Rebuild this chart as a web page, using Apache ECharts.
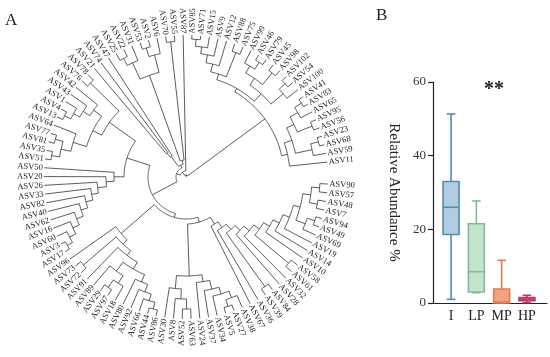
<!DOCTYPE html>
<html><head><meta charset="utf-8">
<script src="https://cdn.jsdelivr.net/npm/echarts@6/dist/echarts.min.js"></script>
<style>html,body{margin:0;padding:0;background:#fff}#c{width:550px;height:357px}</style>
</head><body><div id="c"></div>
<script>
// ================= Panel A : circular dendrogram =================
// internal node = [depth, child, child, ...]; leaf = name. Depth in the same unit as tipDepth.
const tipDepth = 142;
function ladder(base, steps) { return steps.reduce((acc, s) => [s[0], acc, s[1]], base); }

const cladeRightTop = [118, [126, [134, 'ASV90', 'ASV57'], [134, 'ASV48', 'ASV7']], [128, [136, 'ASV94', 'ASV49'], 'ASV69']];
const rightLadderSteps = [[111, 'ASV19'], [104, 'ASV14'], [97, 'ASV10'], [90, [134, 'ASV58', 'ASV61']], [83, 'ASV32'],
  [76, 'ASV28'], [69, [135, 'ASV84', 'ASV39']], [62, 'ASV36'], [55, 'ASV67']];
const cladeBottomRight = ladder([129, 'ASV38', [136, 'ASV27', 'ASV5']], [[122, 'ASV34'], [115, 'ASV37'], [106, 'ASV24']]);
const cladeBottomLeft = ladder([132, 'ASV63', 'ASV52'], [[122, 'ASV8'], [112, 'ASV30']]);
const cladeLowerLeftA = ladder([136, 'ASV86', 'ASV44'], [[129, 'ASV66'], [122, 'ASV92'], [114, 'ASV80']]);
const cladeLowerLeftB = [117, [126, 'ASV18', [135, 'ASV97', 'ASV29']], 'ASV89'];
const lowerLeftSteps = [[98, 'ASV91'], [92, [135, 'ASV72', 'ASV73']], [86, 'ASV96']];
const leftLadderSteps = [[131, 'ASV60'], [124, 'ASV16'], [117, 'ASV62'], [110, 'ASV40'], [103, 'ASV82'],
  [96, 'ASV33'], [89, 'ASV26'], [80, 'ASV20'], [72, 'ASV50']];
const cladeUpperLeftA = [118, [128, [136, 'ASV51', 'ASV35'], [136, 'ASV81', 'ASV77']], 'ASV64'];
const cladeUpperLeftB = ladder([136, 'ASV13', 'ASV4'], [[129, 'ASV1'], [122, 'ASV43'], [114, 'ASV42']]);
const cladeTop = [108, [126, [134, 'ASV25', 'ASV22'], 'ASV31'], [126, [135, 'ASV53', 'ASV2'], 'ASV6']];
const cladeUR1 = ladder([138, 'ASV85', 'ASV71'], [[131, 'ASV15'], [124, 'ASV9'], [116, 'ASV12']]);
const cladeUR2 = [112, [120, [128, 'ASV99', [136, 'ASV46', 'ASV79']], [135, 'ASV45', 'ASV98']], [128, [136, 'ASV102', 'ASV54'], 'ASV100']];
const cladeUR3 = [112, [120, [129, [137, 'ASV41', 'ASV83'], 'ASV65'], [136, 'ASV95', 'ASV56']], [129, [137, 'ASV23', 'ASV68'], 'ASV59']];

const cladeRight = [47, ladder(cladeRightTop, rightLadderSteps), [99, cladeBottomRight, cladeBottomLeft]];
const cladeLowerLeft = ladder([106, cladeLowerLeftA, cladeLowerLeftB], lowerLeftSteps);
const cladeLeft = [62, ladder([137, 'ASV17', 'ASV3'], leftLadderSteps), [94, [104, cladeUpperLeftA, cladeUpperLeftB], [134, 'ASV76', 'ASV78']]];
const cladeUpper = [13, [25, [30, 'ASV21', 'ASV74'], 'ASV47'], [17, cladeTop, [136, 'ASV70', 'ASV55']]];
const cladeUpperRight = [98, [102, [108, cladeUR1, [134, 'ASV88', 'ASV75']], cladeUR2], [104, cladeUR3, 'ASV11']];
const tree = [2, [6, [10, [38, [42, cladeRight, cladeLowerLeft], cladeLeft], cladeUpper], 'ASV87'], cladeUpperRight];

const nodes = [];
let leafCount = 0;
function layout(t, parentDepth) {
  let n;
  if (typeof t === 'string') {
    n = { name: t, depth: tipDepth, angle: leafCount++ };
  } else {
    const kids = t.slice(1).map(c => layout(c, t[0]));
    n = { depth: t[0], arc0: kids[0].angle, arc1: kids[kids.length - 1].angle };
    n.angle = (n.arc0 + n.arc1) / 2;
    n.children = kids;
  }
  n.parentDepth = parentDepth;
  nodes.push(n);
  return n;
}
layout(tree, 0);

const lineColor = '#333';
function renderTree(params, api) {
  const n = nodes[params.dataIndex];
  const c = api.coord([0, n.angle]);
  const p0 = api.coord([n.parentDepth, n.angle]);
  const p1 = api.coord([n.depth, n.angle]);
  const els = [{ type: 'line', shape: { x1: p0[0], y1: p0[1], x2: p1[0], y2: p1[1] },
    style: { stroke: lineColor, lineWidth: 0.8 } }];
  if (n.children) {
    const pts = [];
    const steps = Math.max(2, Math.ceil((n.arc1 - n.arc0) * 4));
    for (let k = 0; k <= steps; k++) pts.push(api.coord([n.depth, n.arc0 + (n.arc1 - n.arc0) * k / steps]));
    els.push({ type: 'polyline', shape: { points: pts }, style: { stroke: lineColor, lineWidth: 0.8, fill: null } });
  } else {
    const th = Math.atan2(p1[1] - c[1], p1[0] - c[0]);
    const left = Math.cos(th) < 0;
    els.push({ type: 'text', x: p1[0] + 1.5 * Math.cos(th), y: p1[1] + 1.5 * Math.sin(th),
      rotation: left ? Math.PI - th : -th,
      style: { text: n.name, font: '8.5px "Liberation Serif"', fill: '#222',
        align: left ? 'right' : 'left', verticalAlign: 'middle' } });
  }
  return { type: 'group', children: els };
}

// ================= Panel B : box plot =================
const categories = ['I', 'LP', 'MP', 'HP'];
const whiskerMin = [1.0, 2.8, 0.0, 0.1];
const q1 = [18.6, 3.0, 0.0, 0.6];
const median = [26.0, 8.5, 0.2, 1.0];
const q3 = [33.0, 21.5, 3.8, 1.5];
const whiskerMax = [51.3, 27.7, 11.6, 2.1];
const yTicks = [0, 20, 40, 60];
const boxFill = ['#b3cde0', '#c4e4cf', '#f1a283', '#d5587f'];
const boxStroke = ['#4f8db0', '#86b99c', '#de7b58', '#bf3a63'];

function renderBox(params, api) {
  const i = api.value(0);
  const band = api.size([1, 0])[0];
  const bw = band * 0.63, cw = band * 0.34;
  const cx = api.coord([i, 0])[0];
  const y = v => api.coord([i, v])[1];
  const st = { stroke: boxStroke[i], lineWidth: 1.6 };
  return { type: 'group', children: [
    { type: 'line', shape: { x1: cx, y1: y(api.value(1)), x2: cx, y2: y(api.value(2)) }, style: st },
    { type: 'line', shape: { x1: cx, y1: y(api.value(4)), x2: cx, y2: y(api.value(5)) }, style: st },
    { type: 'line', shape: { x1: cx - cw / 2, y1: y(api.value(1)), x2: cx + cw / 2, y2: y(api.value(1)) }, style: st },
    { type: 'line', shape: { x1: cx - cw / 2, y1: y(api.value(5)), x2: cx + cw / 2, y2: y(api.value(5)) }, style: st },
    { type: 'rect', shape: { x: cx - bw / 2, y: y(api.value(4)), width: bw, height: y(api.value(2)) - y(api.value(4)) },
      style: { fill: boxFill[i], stroke: boxStroke[i], lineWidth: 1.6 } },
    { type: 'line', shape: { x1: cx - bw / 2, y1: y(api.value(3)), x2: cx + bw / 2, y2: y(api.value(3)) }, style: st }
  ] };
}

const serif = '"Liberation Serif"';
const chart = echarts.init(document.getElementById('c'));
chart.setOption({
  animation: false,
  backgroundColor: '#fff',
  polar: { center: [186, 177], radius: tipDepth },
  angleAxis: { type: 'value', min: -0.8, max: 100.7, startAngle: 0, clockwise: true,
    axisLine: { show: false }, axisTick: { show: false }, axisLabel: { show: false }, splitLine: { show: false } },
  radiusAxis: { type: 'value', min: 0, max: tipDepth,
    axisLine: { show: false }, axisTick: { show: false }, axisLabel: { show: false }, splitLine: { show: false } },
  grid: [
    { left: 433, right: 3, top: 82, bottom: 54 },
    { left: 438.4, width: 101.2, top: 82, bottom: 54 }
  ],
  xAxis: [
    { gridIndex: 0, type: 'value', min: 0, max: 1, axisLine: { show: true, lineStyle: { color: '#222', width: 1.2 } },
      axisTick: { show: false }, axisLabel: { show: false }, splitLine: { show: false } },
    { gridIndex: 1, type: 'category', data: categories, axisLine: { show: false }, axisTick: { show: false },
      axisLabel: { interval: 0, fontFamily: serif, fontSize: 14, color: '#222', margin: 6 } }
  ],
  yAxis: [
    { gridIndex: 0, type: 'value', min: yTicks[0], max: yTicks[yTicks.length - 1], interval: yTicks[1] - yTicks[0],
      axisLine: { show: true, lineStyle: { color: '#222', width: 1.2 } },
      axisTick: { show: true, length: 5, lineStyle: { color: '#222', width: 1.2 } },
      axisLabel: { fontFamily: serif, fontSize: 13, color: '#333', margin: 7 },
      splitLine: { show: false },
      name: 'Relative Abundance %', nameLocation: 'middle', nameRotate: -90, nameGap: 32,
      nameTextStyle: { fontFamily: serif, fontSize: 15, color: '#222' } },
    { gridIndex: 1, type: 'value', min: 0, max: 60, show: false }
  ],
  graphic: [
    { type: 'text', x: 5, y: 12, style: { text: 'A', font: '17px ' + serif, fill: '#222' } },
    { type: 'text', x: 376, y: 7, style: { text: 'B', font: '17px ' + serif, fill: '#222' } },
    { type: 'text', x: 494, y: 90, style: { text: '**', font: 'bold 20px ' + serif, fill: '#222', align: 'center', verticalAlign: 'middle' } }
  ],
  series: [
    { type: 'custom', coordinateSystem: 'polar', polarIndex: 0, silent: true,
      data: nodes.map(n => [n.depth, n.angle]), renderItem: renderTree },
    { type: 'custom', coordinateSystem: 'cartesian2d', xAxisIndex: 1, yAxisIndex: 1, silent: true,
      data: categories.map((c, i) => [i, whiskerMin[i], q1[i], median[i], q3[i], whiskerMax[i]]),
      encode: { x: 0, y: [1, 2, 3, 4, 5] }, renderItem: renderBox }
  ]
});
</script></body></html>
